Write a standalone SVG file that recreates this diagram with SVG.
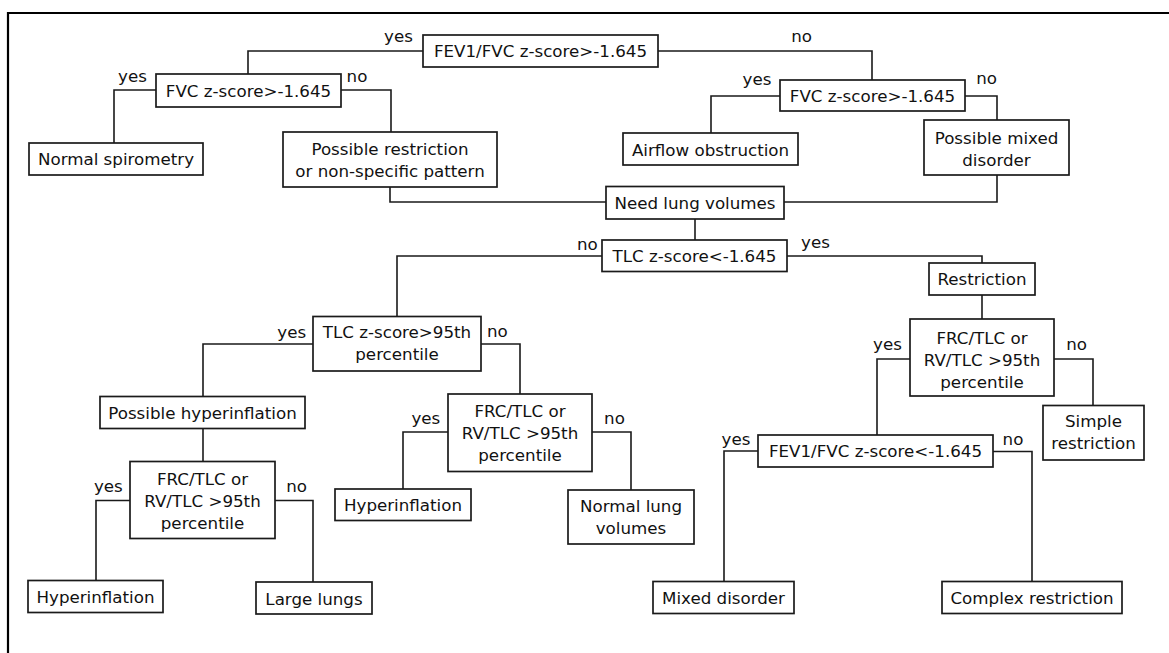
<svg xmlns="http://www.w3.org/2000/svg" width="1169" height="653" viewBox="0 0 1169 653">
<style>
.box{fill:#fff;stroke:#1a1a1a;stroke-width:1.7}
.t{font-family:"DejaVu Sans",Verdana,sans-serif;font-size:16.7px;fill:#111;text-anchor:middle}
.c{fill:none;stroke:#1a1a1a;stroke-width:1.6}
.frame{fill:none;stroke:#000;stroke-width:2.2}
</style>
<rect width="1169" height="653" fill="#fff"/>
<path class="frame" d="M8,653 V13 H1169"/>
<g id="connectors">
<path class="c" d="M423,51 H248 V74"/>
<path class="c" d="M658,51 H872 V80"/>
<path class="c" d="M156,90 H114 V143"/>
<path class="c" d="M341,90 H391 V132"/>
<path class="c" d="M780,96 H711 V133"/>
<path class="c" d="M965,96 H997 V120"/>
<path class="c" d="M390,187 V202 H606"/>
<path class="c" d="M997,175 V202 H784"/>
<path class="c" d="M695,219 V240"/>
<path class="c" d="M602,256 H397 V316.5"/>
<path class="c" d="M787,256 H982 V263"/>
<path class="c" d="M982,295 V319"/>
<path class="c" d="M910,359 H877 V435"/>
<path class="c" d="M1054,359 H1093 V405.5"/>
<path class="c" d="M758,451 H724 V581.5"/>
<path class="c" d="M993,451.5 H1032 V581.5"/>
<path class="c" d="M313,344 H203 V396.5"/>
<path class="c" d="M478,344 H520 V394"/>
<path class="c" d="M203,428.5 V461.5"/>
<path class="c" d="M130,500.5 H96 V580.5"/>
<path class="c" d="M275,500.5 H313 V582"/>
<path class="c" d="M448,432 H403 V489"/>
<path class="c" d="M592,432 H631 V490"/>
<g id="labels">
<text class="t" x="398.5" y="42">yes</text>
<text class="t" x="801.7" y="42">no</text>
<text class="t" x="132.5" y="82">yes</text>
<text class="t" x="357" y="82">no</text>
<text class="t" x="757" y="85">yes</text>
<text class="t" x="986.7" y="84">no</text>
<text class="t" x="587.3" y="250">no</text>
<text class="t" x="815.5" y="248">yes</text>
<text class="t" x="291.7" y="338">yes</text>
<text class="t" x="497.3" y="337">no</text>
<text class="t" x="887.5" y="350">yes</text>
<text class="t" x="1076.7" y="350">no</text>
<text class="t" x="736" y="445">yes</text>
<text class="t" x="1013" y="445">no</text>
<text class="t" x="425.8" y="424">yes</text>
<text class="t" x="614.5" y="424">no</text>
<text class="t" x="108.3" y="491.5">yes</text>
<text class="t" x="296.7" y="491.5">no</text>
</g>
</g>
<g id="n_fev1fvc_gt"><rect class="box" x="423" y="35" width="235" height="32"/><text class="t" x="540.5" y="57">FEV1/FVC z-score&gt;-1.645</text></g>
<g id="n_fvc_left"><rect class="box" x="156" y="74" width="185" height="33"/><text class="t" x="248.5" y="96.5">FVC z-score&gt;-1.645</text></g>
<g id="n_fvc_right"><rect class="box" x="780" y="80" width="185" height="31"/><text class="t" x="872.5" y="101.5">FVC z-score&gt;-1.645</text></g>
<g id="n_normal_spirometry"><rect class="box" x="29" y="143" width="174" height="32"/><text class="t" x="116" y="165">Normal spirometry</text></g>
<g id="n_possible_restriction"><rect class="box" x="283" y="132" width="214" height="55"/><text class="t" x="390" y="154.5">Possible restriction</text><text class="t" x="390" y="176.5">or non-specific pattern</text></g>
<g id="n_airflow"><rect class="box" x="623" y="133" width="175" height="32"/><text class="t" x="710.5" y="155.5">Airflow obstruction</text></g>
<g id="n_possible_mixed"><rect class="box" x="924" y="120" width="145" height="55"/><text class="t" x="996.5" y="143.5">Possible mixed</text><text class="t" x="996.5" y="165.5">disorder</text></g>
<g id="n_need_lung"><rect class="box" x="606" y="186.5" width="178" height="32.5"/><text class="t" x="695" y="208.5">Need lung volumes</text></g>
<g id="n_tlc_lt"><rect class="box" x="602" y="240" width="185" height="31.5"/><text class="t" x="694.5" y="262">TLC z-score&lt;-1.645</text></g>
<g id="n_tlc_95"><rect class="box" x="313" y="316.5" width="168" height="54.5"/><text class="t" x="397" y="338">TLC z-score&gt;95th</text><text class="t" x="397" y="360">percentile</text></g>
<g id="n_restriction"><rect class="box" x="929" y="263" width="106" height="32"/><text class="t" x="982" y="285">Restriction</text></g>
<g id="n_frc_right"><rect class="box" x="910" y="319" width="144" height="77"/><text class="t" x="982" y="344">FRC/TLC or</text><text class="t" x="982" y="366">RV/TLC &gt;95th</text><text class="t" x="982" y="388">percentile</text></g>
<g id="n_simple"><rect class="box" x="1043" y="405.5" width="101" height="54.5"/><text class="t" x="1093.5" y="427">Simple</text><text class="t" x="1093.5" y="449">restriction</text></g>
<g id="n_possible_hyper"><rect class="box" x="100" y="396.5" width="205" height="32"/><text class="t" x="202.5" y="419">Possible hyperinflation</text></g>
<g id="n_frc_mid"><rect class="box" x="448" y="394" width="144" height="77.5"/><text class="t" x="520" y="417">FRC/TLC or</text><text class="t" x="520" y="439">RV/TLC &gt;95th</text><text class="t" x="520" y="461">percentile</text></g>
<g id="n_frc_left"><rect class="box" x="130" y="461.5" width="145" height="77"/><text class="t" x="202.5" y="485">FRC/TLC or</text><text class="t" x="202.5" y="507">RV/TLC &gt;95th</text><text class="t" x="202.5" y="529">percentile</text></g>
<g id="n_hyper_mid"><rect class="box" x="335" y="489" width="136" height="31.5"/><text class="t" x="403" y="511">Hyperinflation</text></g>
<g id="n_normal_lung"><rect class="box" x="568" y="490" width="126" height="54"/><text class="t" x="631" y="512">Normal lung</text><text class="t" x="631" y="534">volumes</text></g>
<g id="n_fev1fvc_lt"><rect class="box" x="758" y="435" width="235" height="32"/><text class="t" x="875.5" y="457">FEV1/FVC z-score&lt;-1.645</text></g>
<g id="n_hyper_left"><rect class="box" x="28" y="580.5" width="135" height="32"/><text class="t" x="95.5" y="603">Hyperinflation</text></g>
<g id="n_large"><rect class="box" x="256" y="582" width="116" height="32"/><text class="t" x="314" y="604.5">Large lungs</text></g>
<g id="n_mixed"><rect class="box" x="653" y="581.5" width="141" height="32"/><text class="t" x="723.5" y="604">Mixed disorder</text></g>
<g id="n_complex"><rect class="box" x="942" y="581.5" width="180" height="32"/><text class="t" x="1032" y="604">Complex restriction</text></g>
</svg>
